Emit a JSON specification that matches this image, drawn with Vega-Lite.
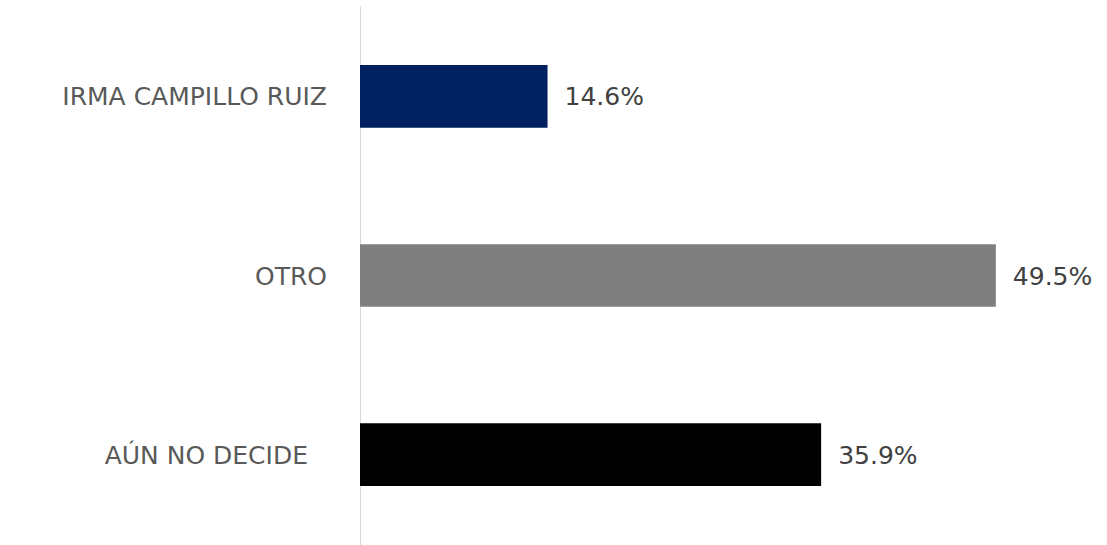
{
  "$schema": "https://vega.github.io/schema/vega-lite/v6.json",
  "autosize": "none",
  "width": 745,
  "height": 539,
  "padding": {"left": 360, "top": 6, "right": 2, "bottom": 0},
  "background": "white",
  "config": {"view": {"stroke": null}},
  "data": {"values": [
    {"name": "IRMA CAMPILLO RUIZ", "value": 14.6, "label": "14.6%", "color": "#002060"},
    {"name": "OTRO", "value": 49.5, "label": "49.5%", "color": "#7f7f7f"},
    {"name": "AÚN NO DECIDE", "value": 35.9, "label": "35.9%", "color": "#000000"}
  ]},
  "encoding": {
    "y": {"field": "name", "type": "nominal", "sort": null,
      "scale": {"paddingInner": 0.65, "paddingOuter": 0.33},
      "axis": {"title": null, "ticks": false, "labels": false, "domainColor": "#d9d9d9", "domainWidth": 1}},
    "x": {"field": "value", "type": "quantitative", "scale": {"domain": [0, 58], "nice": false}, "axis": null}
  },
  "layer": [
    {"mark": {"type": "bar"}, "encoding": {"color": {"field": "color", "type": "nominal", "scale": null}}},
    {"mark": {"type": "text", "align": "left", "dx": 17, "dy": 1, "font": "DejaVu Sans", "fontSize": 25, "color": "#404040"},
     "encoding": {"text": {"field": "label", "type": "nominal"}}},
    {"transform": [{"filter": "datum.name != 'AÚN NO DECIDE'"}],
     "mark": {"type": "text", "align": "right", "dx": -33, "dy": 1, "font": "DejaVu Sans", "fontSize": 25, "color": "#595959"},
     "encoding": {"x": {"datum": 0}, "text": {"field": "name", "type": "nominal"}}},
    {"transform": [{"filter": "datum.name == 'AÚN NO DECIDE'"}],
     "mark": {"type": "text", "align": "right", "dx": -52, "dy": 1, "font": "DejaVu Sans", "fontSize": 25, "color": "#595959"},
     "encoding": {"x": {"datum": 0}, "text": {"field": "name", "type": "nominal"}}}
  ]
}
